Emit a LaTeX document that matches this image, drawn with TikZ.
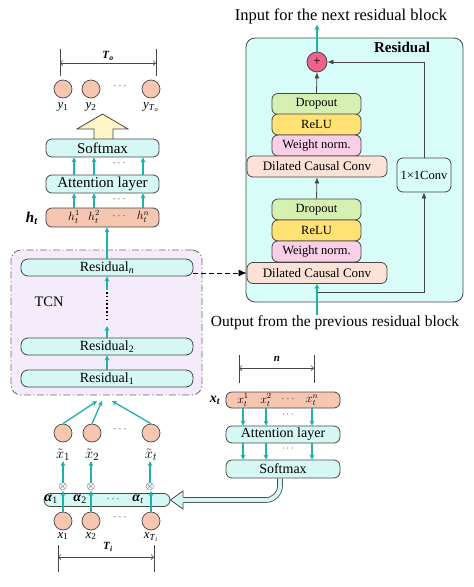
\documentclass[tikz,border=0pt]{standalone}
\usepackage{fontspec}
\setmainfont{Liberation Serif}
\usetikzlibrary{arrows.meta}
\definecolor{linec}{RGB}{70,70,70}
\definecolor{cyanf}{RGB}{214,248,244}
\definecolor{salf}{RGB}{247,198,176}
\definecolor{salc}{RGB}{247,198,176}
\definecolor{peach}{RGB}{252,226,214}
\definecolor{greenf}{RGB}{214,240,178}
\definecolor{yellowf}{RGB}{255,226,115}
\definecolor{pinkf}{RGB}{249,207,231}
\definecolor{plusc}{RGB}{238,98,140}
\definecolor{resbg}{RGB}{216,252,248}
\definecolor{tcnbg}{RGB}{244,236,250}
\definecolor{yelarrow}{RGB}{255,246,200}
\definecolor{tealc}{RGB}{32,178,170}
\newcommand\myfs[1]{\fontsize{#1}{#1}\selectfont}
\newcommand\bi[1]{\textbf{\textit{#1}}}
\newcommand\isub[2]{\textit{#1}\textsubscript{#2}}
\newcommand\mydots{\textperiodcentered\,\textperiodcentered\,\textperiodcentered}
\tikzset{
  box/.style={draw=linec, line width=0.8pt, rounded corners=6pt, inner sep=0pt},
  cbox/.style={box, fill=cyanf},
  sbox/.style={box, fill=salf},
  ar/.style={draw=tealc, line width=1.3pt, -{Stealth[length=5pt,width=5pt]}},
  blk/.style={draw=linec, line width=0.8pt, -{Latex[length=6pt,width=5pt]}},
  circ/.style={circle, draw=linec, line width=0.7pt, fill=salc, minimum size=18pt, inner sep=0pt},
  dimln/.style={draw=linec, line width=0.7pt},
  dimar/.style={dimln, {Straight Barb[length=2.5pt,width=5pt]}-{Straight Barb[length=2.5pt,width=5pt]}},
  stk/.style={box, minimum width=89pt, minimum height=21pt, font=\myfs{12.5}},
  dcc/.style={box, fill=peach, minimum width=140pt, minimum height=21pt, font=\myfs{13}},
  resb/.style={cbox, minimum width=172pt, minimum height=17pt, rounded corners=7pt, font=\myfs{14}},
  lbl/.style={inner sep=0pt, font=\myfs{13}},
  dts/.style={inner sep=0pt, font=\myfs{10}, text=linec},
}
\begin{document}
\begin{tikzpicture}[x=1pt,y=-1pt]
\useasboundingbox (0,0) rectangle (474,587);

% ---------------- left top: outputs
\node[circ] (y1) at (63,89) {};
\node[circ] (y2) at (91,89) {};
\node[circ] (yT) at (151,89) {};
\node[dts] (ydots) at (120,88) {\mydots};
\node[lbl] (ly1) at (63,107) {\isub{y}{1}};
\node[lbl] (ly2) at (91,107) {\isub{y}{2}};
\node[lbl] (lyT) at (151,107) {\textit{y}\textsubscript{\textit{T}\textsubscript{\textit{o}}}};
\coordinate (toa) at (60,49); \coordinate (tob) at (60,76);
\coordinate (toc) at (156,49); \coordinate (tod) at (156,76);
\draw[dimln] (toa) -- (tob);
\draw[dimln] (toc) -- (tod);
\draw[dimar] (60,63) -- (156,63);
\node[lbl, font=\myfs{11}] (Tolab) at (108,56) {\bi{T}\textsubscript{\bi{o}}};

% big yellow arrow
\draw[draw=linec, line width=0.8pt, fill=yelarrow] (94,139) -- (94,129) -- (77,129) -- (102.5,114) -- (128,129) -- (113,129) -- (113,139);

\node[cbox, minimum width=113pt, minimum height=18pt, font=\myfs{15}] (sm) at (102.5,148) {Softmax};
\node[cbox, minimum width=113pt, minimum height=18pt, font=\myfs{15}] (att) at (102.5,184) {Attention layer};
\node[sbox, minimum width=113pt, minimum height=19pt] (ht) at (102.5,217.5) {};
\node[lbl, font=\myfs{12}] (h1) at (74,217) {$h_t^1$};
\node[lbl, font=\myfs{12}] (h2) at (94,217) {$h_t^2$};
\node[dts] (hd) at (119,218) {\mydots};
\node[lbl, font=\myfs{12}] (hn) at (143,217) {$h_t^n$};
\node[inner sep=0pt, font=\myfs{15}] (htlab) at (32,218) {\bi{h}\textsubscript{\bi{t}}};
\draw[ar] (h1 |- ht.north) -- (h1 |- att.south);
\draw[ar] (h2 |- ht.north) -- (h2 |- att.south);
\draw[ar] (hn |- ht.north) -- (hn |- att.south);
\node[dts] (dd1) at (119,201) {\mydots};
\draw[ar] (h1 |- att.north) -- (h1 |- sm.south);
\draw[ar] (h2 |- att.north) -- (h2 |- sm.south);
\draw[ar] (hn |- att.north) -- (hn |- sm.south);
\node[dts] (dd2) at (119,165) {\mydots};

% ---------------- TCN
\node[draw=linec!80, line width=0.8pt, fill=tcnbg, rounded corners=10pt,
      dash pattern=on 7pt off 2.5pt on 1.2pt off 2.5pt,
      minimum width=191pt, minimum height=145pt, inner sep=0pt] (tcn) at (106.5,322.5) {};
\node[resb] (resn) at (107,267.5) {Residual\textsubscript{\textit{n}}};
\node[resb] (res2) at (107,346.5) {Residual\textsubscript{2}};
\node[resb] (res1) at (107,378.5) {Residual\textsubscript{1}};
\node[inner sep=0pt, font=\myfs{14.5}] (tcnlab) at (49,302) {TCN};
\coordinate (dtop) at (107,292);
\coordinate (dbot) at (107,320);
\coordinate (d1) at (107,326);
\coordinate (d2) at (107,290);
\draw[black, line width=2pt, dash pattern=on 1.6pt off 2.2pt] (dtop) -- (dbot);
\draw[ar] (res1.north) -- (res2.south);
\draw[ar] (res2.north) -- (d1);
\draw[ar] (d2) -- (resn.south);
\draw[ar] (resn.north) -- (resn.north |- ht.south);

% ---------------- inputs
\node[circ] (xt1) at (63,433) {};
\node[circ] (xt2) at (92,433) {};
\node[circ] (xt3) at (151,433) {};
\node[dts] (xtd) at (120,431) {\mydots};
\coordinate (in1) at (97,401);
\coordinate (in2) at (102,401);
\coordinate (in3) at (112,401);
\draw[ar] (xt1.north) -- (in1);
\draw[ar] (xt2.north) -- (in2);
\draw[ar] (xt3.north) -- (in3);
\node[lbl, font=\myfs{15}] (lxt1) at (63,455) {$\tilde{x}_1$};
\node[lbl, font=\myfs{15}] (lxt2) at (92,455) {$\tilde{x}_2$};
\node[lbl, font=\myfs{15}] (lxt3) at (151,455) {$\tilde{x}_t$};

\node[inner sep=0pt, font=\myfs{11}] (o1) at (63,487) {$\otimes$};
\node[inner sep=0pt, font=\myfs{11}] (o2) at (91,487) {$\otimes$};
\node[inner sep=0pt, font=\myfs{11}] (o3) at (150,487) {$\otimes$};
\draw[ar] (o1.north) -- (o1.north |- lxt1.south);
\draw[ar] (o2.north) -- (o2.north |- lxt2.south);
\draw[ar] (o3.north) -- (o3.north |- lxt3.south);

\node[box, fill=cyanf, minimum width=126pt, minimum height=13pt, rounded corners=6.5pt] (abar) at (107,500) {};
\node[lbl, font=\myfs{14}] (a1) at (51,499) {\bi{α}\textsubscript{1}};
\node[lbl, font=\myfs{14}] (a2) at (80,499) {\bi{α}\textsubscript{2}};
\node[dts] (ad) at (113,501) {\mydots};
\node[lbl, font=\myfs{14}] (a3) at (138,499) {\bi{α}\textsubscript{\textit{t}}};

\node[circ] (x1) at (63,521) {};
\node[circ] (x2) at (91,521) {};
\node[circ] (x3) at (151,521) {};
\node[dts] (xd) at (120,519) {\mydots};
\draw[ar] (x1.north) -- (o1.south);
\draw[ar] (x2.north) -- (o2.south);
\draw[ar] (x3.north) -- (o3.south -| x3.north);
\node[lbl] (lx1) at (63,536) {\isub{x}{1}};
\node[lbl] (lx2) at (91,536) {\isub{x}{2}};
\node[lbl] (lx3) at (151,537) {\textit{x}\textsubscript{\textit{T}\textsubscript{\textit{i}}}};
\coordinate (tia) at (58,545); \coordinate (tib) at (58,572);
\coordinate (tic) at (154,545); \coordinate (tid) at (154,572);
\draw[dimln] (tia) -- (tib);
\draw[dimln] (tic) -- (tid);
\draw[dimar] (58,557) -- (154,557);
\node[lbl, font=\myfs{11}] (Tilab) at (108,547) {\bi{T}\textsubscript{\bi{i}}};

% ---------------- right: x_t attention
\node[sbox, minimum width=114pt, minimum height=16pt] (xtb) at (283,400) {};
\node[lbl, font=\myfs{12}] (xa) at (243,400) {$x_t^1$};
\node[lbl, font=\myfs{12}] (xb) at (266,400) {$x_t^2$};
\node[dts] (xc) at (288,401) {\mydots};
\node[lbl, font=\myfs{12}] (xn) at (312,400) {$x_t^n$};
\node[inner sep=0pt, font=\myfs{14}] (xtlab) at (215,400) {\bi{x}\textsubscript{\bi{t}}};
\node[cbox, minimum width=114pt, minimum height=17pt, font=\myfs{14}] (att2) at (283,434.5) {Attention layer};
\node[cbox, minimum width=114pt, minimum height=18pt, font=\myfs{14}] (sm2) at (283,469) {Softmax};
\draw[ar] (xa |- xtb.south) -- (xa |- att2.north);
\draw[ar] (xb |- xtb.south) -- (xb |- att2.north);
\draw[ar] (xn |- xtb.south) -- (xn |- att2.north);
\node[dts, font=\myfs{9}] (xd1) at (288,416) {\mydots};
\draw[ar] (xa |- att2.south) -- (xa |- sm2.north);
\draw[ar] (xb |- att2.south) -- (xb |- sm2.north);
\draw[ar] (xn |- att2.south) -- (xn |- sm2.north);
\node[dts, font=\myfs{9}] (xd2) at (288,450) {\mydots};
\coordinate (na) at (239,355); \coordinate (nb) at (239,383);
\coordinate (nc) at (314,355); \coordinate (nd) at (314,383);
\draw[dimln] (na) -- (nb);
\draw[dimln] (nc) -- (nd);
\draw[dimar] (239,368) -- (314,368);
\node[lbl, font=\myfs{11}] (nlab) at (277,359) {\bi{n}};

% double hollow arrow softmax -> alpha bar
\coordinate (hb) at (183,500);
\draw[draw=linec, line width=0.8pt, double=cyanf, double distance=4pt, rounded corners=14pt]
  ([xshift=-3pt]sm2.south) |- (hb);
\fill[cyanf] (183,491) -- (abar.east) -- (183,509) -- cycle;
\draw[linec, line width=0.8pt, line join=miter] (183,497.2) -- (183,491) -- (abar.east) -- (183,509) -- (183,502.8);

% ---------------- right: residual block
\node[draw=linec, line width=0.8pt, rounded corners=9pt, fill=resbg,
      minimum width=217pt, minimum height=264pt, inner sep=0pt] (resbox) at (354.5,170) {};
\node[inner sep=0pt, font=\bfseries\myfs{15}] (reslab) at (402,47) {Residual};
\node[circle, draw=linec, line width=0.8pt, fill=plusc, minimum size=20pt, inner sep=0pt, font=\myfs{13}] (plus) at (317,62) {+};

\node[stk, fill=greenf] (do1) at (316.5,104) {Dropout};
\node[stk, fill=yellowf] (re1) at (316.5,124.5) {ReLU};
\node[stk, fill=pinkf] (wn1) at (316.5,145.5) {Weight norm.};
\node[dcc] (dc1) at (317,166.5) {Dilated Causal Conv};

\node[stk, fill=greenf] (do2) at (316.5,209.5) {Dropout};
\node[stk, fill=yellowf] (re2) at (316.5,230.5) {ReLU};
\node[stk, fill=pinkf] (wn2) at (316.5,251.5) {Weight norm.};
\node[dcc] (dc2) at (317,273) {Dilated Causal Conv};

\node[box, fill=resbg, minimum width=54pt, minimum height=34pt, font=\myfs{12.5}] (conv) at (424,175) {1×1Conv};

\node[inner sep=1pt, font=\myfs{16.5}] (inp) at (341,16) {Input for the next residual block};
\node[inner sep=1pt, font=\myfs{15.5}] (out) at (335,323) {Output from the previous residual block};

\draw[blk] (do1.north) -- (plus.south);
\draw[blk] (do2.north) -- (dc1.south);
\coordinate (sk) at (317,292);
\draw[blk] (sk) -| (conv.south);
\draw[blk] (conv.north) |- (plus.east);
\draw[ar] (dc2.south |- out.north) -- (dc2.south);
\draw[ar] (plus.north) -- (plus.north |- inp.south);

\draw[draw=black, line width=1pt, dash pattern=on 5pt off 3pt, -{Latex[length=8pt,width=7pt]}]
  (resn.east |- dc2.west) -- (dc2.west);
\end{tikzpicture}
\end{document}
